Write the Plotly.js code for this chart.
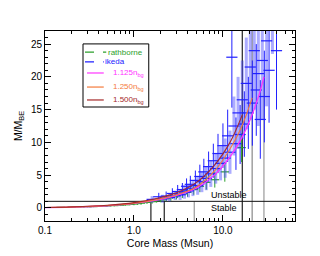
<!DOCTYPE html>
<html>
<head>
<meta charset="utf-8">
<script src="https://cdn.plot.ly/plotly-3.0.1.min.js"></script>
<style>html,body{margin:0;padding:0;background:#fff}#chart{width:320px;height:256px}</style>
</head>
<body>
<div id="chart"></div>
<script>
// ---- data ----
const seriesNames = ["rathborne", "ikeda", "1.125n<sub>bg</sub>", "1.250n<sub>bg</sub>", "1.500n<sub>bg</sub>"];

// Model curves (core mass, M/M_BE)
const m1125 = [0.1, 0.2, 0.5, 1, 2, 3, 5, 8, 12, 16, 20, 25, 28.9];
const v1125 = [0.05, 0.12, 0.33, 0.68, 1.3, 1.9, 3.0, 5.0, 7.8, 10.5, 13.3, 16.9, 20.0];
const m1250 = [0.1, 0.2, 0.5, 1, 2, 3, 5, 8, 12, 16, 21.3];
const v1250 = [0.06, 0.13, 0.36, 0.72, 1.4, 2.0, 3.2, 5.6, 9.0, 12.2, 16.8];
const m1500 = [0.1, 0.2, 0.5, 1, 2, 3, 5, 8, 12, 16.5];
const v1500 = [0.07, 0.15, 0.4, 0.8, 1.6, 2.3, 3.85, 6.5, 10.0, 14.2];

// Rathborne cores
const rathMass = [0.15, 0.2, 0.25, 0.3, 0.35, 0.4, 0.45, 0.5, 0.6, 0.7, 0.8, 0.9, 1.0, 1.1, 1.2, 1.4, 1.6, 1.8, 2.0, 2.3, 2.6, 3.0, 3.5, 4.0, 4.7, 5.5, 6.5, 8.1, 10.5, 16.2];
const rathVal  = [0.08, 0.11, 0.14, 0.17, 0.2, 0.23, 0.26, 0.3, 0.35, 0.42, 0.48, 0.55, 0.6, 0.66, 0.72, 0.85, 0.95, 1.1, 1.2, 1.4, 1.55, 1.8, 2.1, 2.4, 2.8, 3.3, 3.9, 4.3, 5.5, 9.2];
const rathErr  = [0.05, 0.05, 0.06, 0.07, 0.08, 0.08, 0.09, 0.1, 0.12, 0.14, 0.15, 0.17, 0.2, 0.2, 0.22, 0.25, 0.3, 0.3, 0.35, 0.4, 0.45, 0.5, 0.6, 0.7, 0.8, 0.9, 1.1, 1.2, 1.5, 2.2];

// Ikeda cores
const ikMass = [1.6, 1.9, 2.1, 2.3, 2.5, 2.7, 2.9, 3.1, 3.3, 3.5, 3.7, 3.9, 4.1, 4.3, 4.6, 4.9, 5.2, 5.5, 5.8, 6.1, 6.5, 6.9, 7.3, 7.8, 8.3, 8.8, 9.4, 10.0, 10.6, 11.3, 12.0, 12.6, 13.3, 14.0, 14.8, 15.6, 16.5, 17.4, 18.3, 19.3, 20.3, 21.4, 22.5, 23.7, 25.0, 26.3, 27.7, 29.2, 31.0, 33.0, 36.0, 40.0];
const ikVal  = [1.3, 1.7, 1.4, 1.8, 1.6, 2.2, 1.9, 2.5, 2.0, 2.8, 2.4, 3.3, 2.6, 3.6, 3.0, 4.2, 3.4, 4.8, 4.0, 5.5, 4.5, 6.3, 5.2, 7.2, 6.0, 8.3, 6.8, 9.5, 7.6, 11.0, 8.5, 23.0, 12.5, 9.8, 14.5, 11.2, 16.5, 12.8, 19.0, 14.5, 21.5, 16.0, 24.0, 18.0, 20.5, 13.5, 22.5, 17.0, 25.5, 21.0, 27.5, 24.0];
const ikErr  = [0.5, 0.6, 0.6, 0.7, 0.6, 0.8, 0.7, 1.0, 0.8, 1.0, 1.0, 1.2, 1.0, 1.3, 1.2, 1.5, 1.4, 1.8, 1.6, 2.0, 1.8, 2.3, 2.0, 2.6, 2.3, 3.0, 2.6, 3.4, 3.0, 4.0, 3.3, 7.7, 4.5, 4.0, 5.5, 4.5, 6.0, 5.0, 7.0, 5.5, 8.0, 6.5, 9.0, 7.0, 8.0, 6.0, 9.0, 7.0, 10.0, 8.0, 4.0, 9.0];

// Vertical marker lines (mass, lower and upper M/M_BE)
const vlineMass = [1.55, 2.19, 4.76, 16.5, 21.3, 28.9];
const vlineLow  = [-2, -2, -2, -2, -2, -2];
const vlineHigh = [1, 1, 1, 27, 27, 20];

// Stability threshold
const threshold = 1;
const regionLabels = ["Unstable", "Stable"];
const regionLabelY = [1.9, 0.0];
const regionLabelMass = 7.0;

// ---- styles ----
const cGreen = "#2ca02c", cBlue = "#2020ff", cMag = "#ff33ff", cOrange = "#f47a3c", cRed = "#a52a2a";
const vlineColors = ["#222", "#222", "#999", "#222", "#888", "#999"];

const light = {x: [], y: [], e: []}, dark = {x: [], y: [], e: []};
ikMass.forEach((m, i) => {
  const t = (i % 2 === 0) ? light : dark;
  t.x.push(m); t.y.push(ikVal[i]); t.e.push(ikErr[i]);
});

const traces = [];
vlineMass.forEach((m, i) => {
  traces.push({x: [m, m], y: [vlineLow[i], vlineHigh[i]], mode: "lines", showlegend: false, hoverinfo: "skip",
    line: {color: vlineColors[i], width: 1.2}});
});
traces.push({x: [0.1, 70], y: [threshold, threshold], mode: "lines", showlegend: false, line: {color: "#111", width: 1}});

traces.push({x: rathMass, y: rathVal, mode: "markers", name: seriesNames[0], showlegend: false,
  marker: {symbol: "line-ew", size: 6, line: {color: cGreen, width: 1.2}},
  error_y: {type: "data", array: rathErr, color: cGreen, thickness: 1, width: 0}});
traces.push({x: light.x, y: light.y, mode: "markers", name: seriesNames[1], showlegend: false,
  marker: {symbol: "line-ew", size: 8, line: {color: cBlue, width: 1.2}},
  error_y: {type: "data", array: light.e, color: "rgba(70,70,255,0.45)", thickness: 3, width: 0}});
traces.push({x: dark.x, y: dark.y, mode: "markers", name: seriesNames[1], showlegend: false,
  marker: {symbol: "line-ew", size: 8, line: {color: cBlue, width: 1.2}},
  error_y: {type: "data", array: dark.e, color: cBlue, thickness: 1, width: 0}});

traces.push({x: m1125, y: v1125, mode: "lines", name: seriesNames[2], showlegend: false, line: {color: cMag, width: 1.3, shape: "spline"}});
traces.push({x: m1250, y: v1250, mode: "lines", name: seriesNames[3], showlegend: false, line: {color: cOrange, width: 1.1, shape: "spline"}});
traces.push({x: m1500, y: v1500, mode: "lines", name: seriesNames[4], showlegend: false, line: {color: cRed, width: 1.1, shape: "spline"}});

// ---- hand-built legend (paper coords) ----
const legColors = [cGreen, cBlue, cMag, cOrange, cRed];
const legDash = ["dash", "dash", "solid", "solid", "solid"];
const legRowY = [0.889, 0.837, 0.779, 0.705, 0.637];
const legLineX = [[0.16, 0.245], [0.16, 0.235], [0.168, 0.235], [0.168, 0.235], [0.168, 0.235]];
const legTextX = [0.252, 0.24, 0.272, 0.272, 0.272];

const shapes = [{type: "rect", xref: "paper", yref: "paper", x0: 0.152, x1: 0.415, y0: 0.6, y1: 0.932,
  line: {color: "#000", width: 1}, fillcolor: "rgba(255,255,255,0)"}];
const annotations = [];
seriesNames.forEach((n, i) => {
  shapes.push({type: "line", xref: "paper", yref: "paper", x0: legLineX[i][0], x1: legLineX[i][1], y0: legRowY[i], y1: legRowY[i],
    line: {color: legColors[i], width: 1.2, dash: legDash[i]}});
  annotations.push({xref: "paper", yref: "paper", x: legTextX[i], y: legRowY[i], text: n, showarrow: false,
    xanchor: "left", yanchor: "middle", xshift: -2, font: {size: 8, color: legColors[i]}});
});

regionLabels.forEach((t, i) => annotations.push({
  x: Math.log10(regionLabelMass), y: regionLabelY[i], xref: "x", yref: "y", text: t, showarrow: false,
  xanchor: "left", yanchor: "middle", font: {size: 9, color: "#000"}
}));

const minorX = [0.2,0.3,0.4,0.5,0.6,0.7,0.8,0.9,2,3,4,5,6,7,8,9,20,30,40,50,60];

const layout = {
  width: 320, height: 256,
  margin: {l: 45, r: 25, t: 31, b: 35},
  paper_bgcolor: "#fff", plot_bgcolor: "#fff",
  font: {family: "Liberation Sans, Arial, sans-serif", size: 10, color: "#000"},
  showlegend: false,
  xaxis: {type: "log", range: [-1, 1.81], showgrid: false, zeroline: false,
    tickmode: "array", tickvals: [0.1, 1, 10], ticktext: ["0.1", "1.0", "10.0"],
    ticks: "inside", ticklen: 6, tickcolor: "#000", showline: true, linecolor: "#000", linewidth: 1, mirror: "allticks",
    minor: {tickmode: "array", tickvals: minorX, ticks: "inside", ticklen: 3, tickcolor: "#000"},
    title: {text: "Core Mass (Msun)", font: {size: 10.5}, standoff: 4}},
  yaxis: {range: [-2, 27], showgrid: false, zeroline: false,
    tickmode: "array", tickvals: [0, 5, 10, 15, 20, 25],
    ticks: "inside", ticklen: 6, tickcolor: "#000", showline: true, linecolor: "#000", linewidth: 1, mirror: "allticks",
    minor: {dtick: 1, ticks: "inside", ticklen: 3, tickcolor: "#000"},
    title: {text: "M/M<sub>BE</sub>", font: {size: 10.5}, standoff: 6}},
  shapes: shapes,
  annotations: annotations
};

Plotly.newPlot("chart", traces, layout, {staticPlot: true, displayModeBar: false});
</script>
</body>
</html>
